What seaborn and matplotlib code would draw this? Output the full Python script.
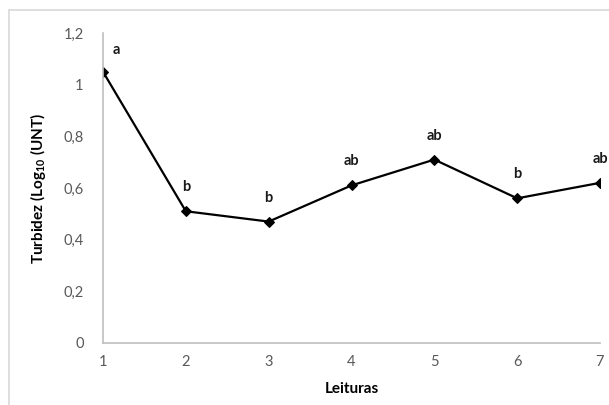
import matplotlib
matplotlib.use("Agg")
import matplotlib.pyplot as plt
import seaborn as sns
import pandas as pd
from matplotlib.lines import Line2D

leituras = [1, 2, 3, 4, 5, 6, 7]
turbidez = [1.05, 0.51, 0.47, 0.61, 0.71, 0.56, 0.62]
letras = ["a", "b", "b", "ab", "ab", "b", "ab"]
yticks = [0, 0.2, 0.4, 0.6, 0.8, 1.0, 1.2]
ytick_labels = ["0", "0,2", "0,4", "0,6", "0,8", "1", "1,2"]

sns.set_style("white")
plt.rcParams["font.family"] = ["Lato", "DejaVu Sans"]
plt.rcParams["mathtext.fontset"] = "custom"
plt.rcParams["mathtext.rm"] = "Lato"
plt.rcParams["mathtext.bf"] = "Lato:bold"

df = pd.DataFrame({"Leituras": leituras, "Turbidez": turbidez})

fig = plt.figure(figsize=(6.09, 4.05), dpi=100)
ax = fig.add_axes([103 / 609, 1 - 343 / 405, (600 - 103) / 609, (343 - 33) / 405])

sns.lineplot(data=df, x="Leituras", y="Turbidez", ax=ax, color="black",
             linewidth=1.6, marker="D", markersize=5.5, markeredgecolor="black",
             markerfacecolor="black")

for i, (x, y, t) in enumerate(zip(leituras, turbidez, letras)):
    dx = 13 if i == 0 else 0
    dy = 22 if i == 0 else 24
    ax.annotate(t, (x, y), xytext=(dx, dy), textcoords="offset pixels",
                ha="center", va="center", fontsize=10.5, fontweight="bold",
                color="#1a1a1a")

ax.set_xlim(1, 7)
ax.set_ylim(0, 1.2)
ax.set_xticks(leituras)
ax.set_xticklabels([str(v) for v in leituras])
ax.set_yticks(yticks)
ax.set_yticklabels(ytick_labels)
ax.tick_params(axis="both", length=0, labelsize=10.5, colors="#595959")
ax.tick_params(axis="x", pad=9)
ax.tick_params(axis="y", pad=14)

for s in ["top", "right"]:
    ax.spines[s].set_visible(False)
for s in ["left", "bottom"]:
    ax.spines[s].set_color("#bfbfbf")
    ax.spines[s].set_linewidth(1.2)

ax.set_xlabel("Leituras", fontsize=11, fontweight="bold", color="black", labelpad=9)
ax.set_ylabel(r"Turbidez (Log$_{\mathbf{10}}$ (UNT)", fontsize=11,
              fontweight="bold", color="black", labelpad=11)

# outer chart border (left and top visible)
fig.add_artist(Line2D([9 / 609, 9 / 609], [0, 1 - 10 / 405], transform=fig.transFigure,
                      color="#d9d9d9", linewidth=1.2))
fig.add_artist(Line2D([9 / 609, 1], [1 - 10 / 405, 1 - 10 / 405], transform=fig.transFigure,
                      color="#d9d9d9", linewidth=1.2))

fig.savefig("out.png", dpi=100)
